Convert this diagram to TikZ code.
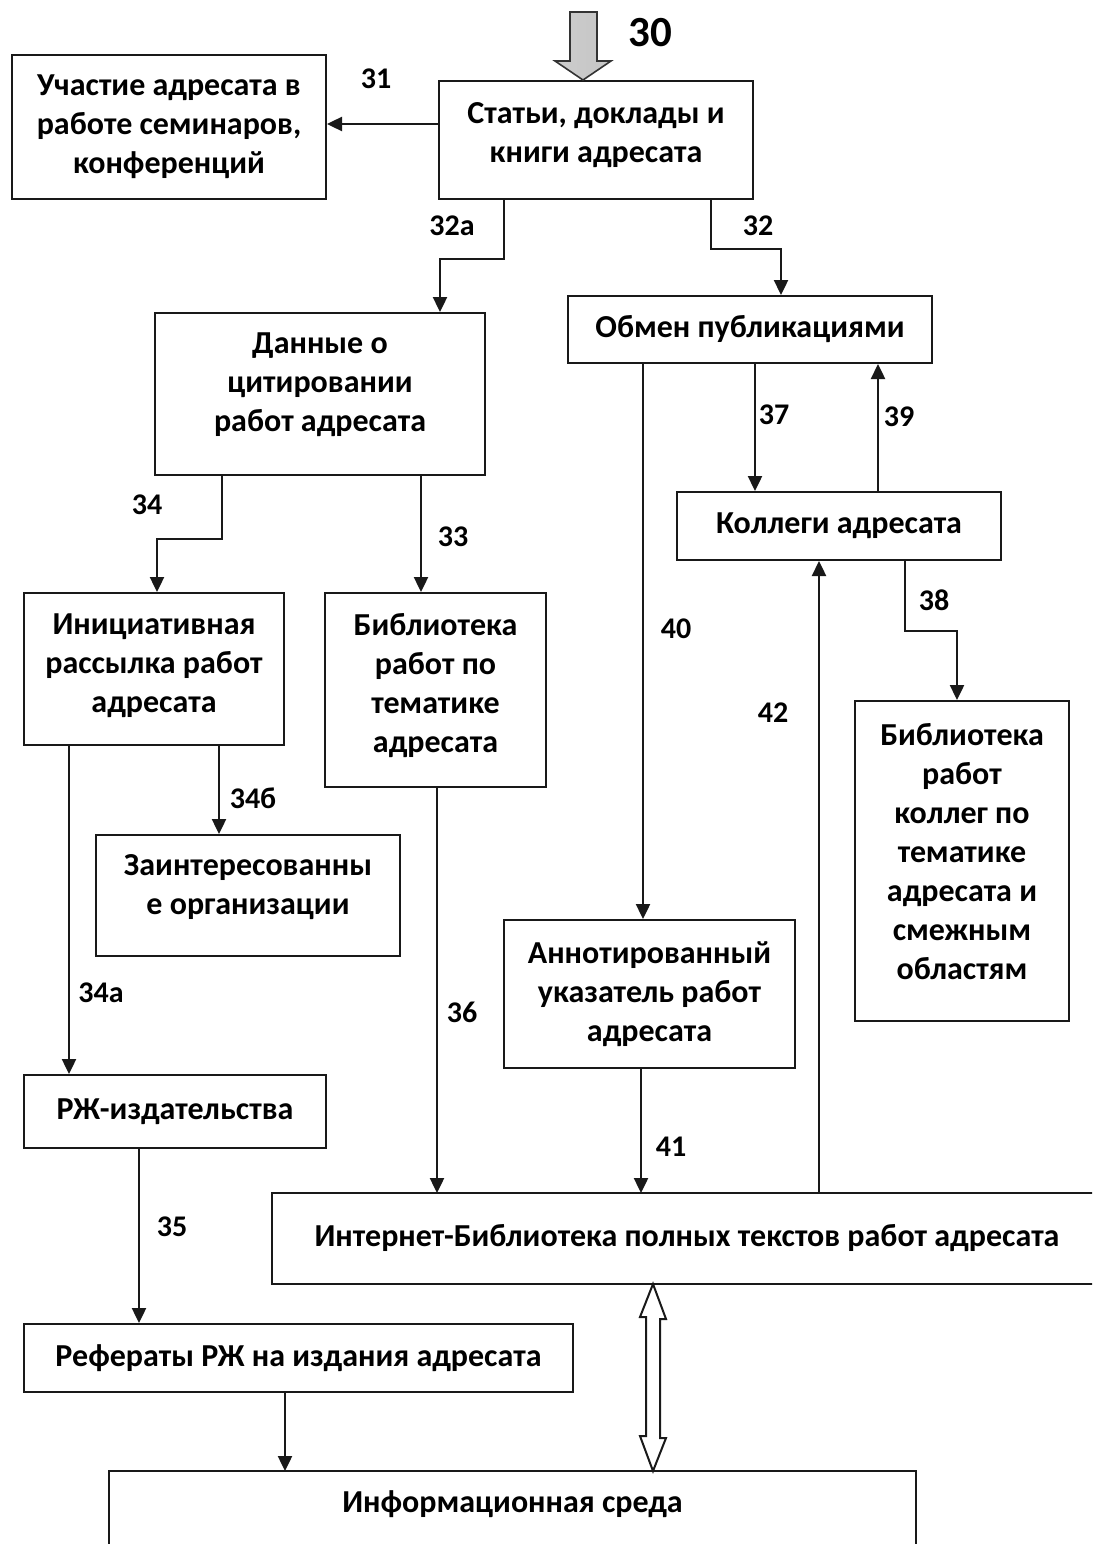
\documentclass[tikz,border=0pt]{standalone}
\usepackage{fontspec}
\setmainfont{Carlito}
\usetikzlibrary{arrows.meta,calc}

\begin{document}
\begin{tikzpicture}[x=1pt,y=-1pt,
  box/.style={draw=black!90, line width=2pt, align=center, inner sep=0pt,
    font=\bfseries\fontsize{32pt}{39pt}\selectfont},
  openbox/.style={box, draw=none},
  edge/.style={draw=black!90, line width=2.4pt},
  arr/.style={edge, -{Triangle[length=15pt,width=14pt]}},
  num/.style={font=\bfseries\fontsize{30pt}{32pt}\selectfont, inner sep=0pt},
]
\useasboundingbox (0,0) rectangle (1092,1544);
\clip (0,0) rectangle (1092,1544);

% ---- blocks ----
\node[box, minimum width=314pt, minimum height=144pt] (part) at (169,127)
  {Участие адресата в\\работе семинаров,\\конференций};
\node[box, minimum width=314pt, minimum height=118pt, text depth=15pt] (stat) at (596,140)
  {Статьи, доклады и\\книги адресата};
\node[box, minimum width=330pt, minimum height=162pt, text depth=23pt] (cit) at (320,394)
  {Данные о\\цитировании\\работ адресата};
\node[box, minimum width=364pt, minimum height=67pt] (obmen) at (750,329.5)
  {Обмен публикациями};
\node[box, minimum width=324pt, minimum height=68pt] (koll) at (839,526)
  {Коллеги адресата};
\node[box, minimum width=260pt, minimum height=152pt, text depth=11pt] (init) at (154,669)
  {Инициативная\\рассылка работ\\адресата};
\node[box, minimum width=221pt, minimum height=194pt, text depth=15pt] (bib) at (435.5,690)
  {Библиотека\\работ по\\тематике\\адресата};
\node[box, minimum width=214pt, minimum height=320pt, text depth=20pt] (bibk) at (962,861)
  {Библиотека\\работ\\коллег по\\тематике\\адресата и\\смежным\\областям};
\node[box, minimum width=304pt, minimum height=121pt, text depth=21pt] (zaint) at (248,895.5)
  {Заинтересованны\\е организации};
\node[box, minimum width=291pt, minimum height=148pt] (annot) at (649.5,994)
  {Аннотированный\\указатель работ\\адресата};
\node[box, minimum width=302pt, minimum height=73pt] (rzh) at (175,1111.5)
  {РЖ-издательства};
\node[openbox, minimum width=828pt, minimum height=89pt] (inet) at (687,1238.5)
  {Интернет-Библиотека полных текстов работ адресата};
\node[box, minimum width=549pt, minimum height=68pt] (ref) at (298.5,1358)
  {Рефераты РЖ на издания адресата};
\node[openbox, minimum width=805pt, minimum height=64pt] (inf) at (512.5,1504)
  {Информационная среда};

% outlines of the two blocks that run past the page edge
\draw[line width=2pt, draw=black!90] (inet.north east) -- (inet.north west)
  -- (inet.south west) -- (inet.south east);
\draw[line width=2pt, draw=black!90] ([yshift=-60pt]inf.south west)
  -- (inf.north west) -- (inf.north east) -- ([yshift=-60pt]inf.south east);

% ---- incoming flow 30 ----
\coordinate (in30) at ([xshift=-13pt]stat.north);
\path[draw=black!80, line width=1.6pt, left color=gray!40, middle color=gray!6,
  right color=gray!45]
  (in30) -- ++(-28,-19) -- ++(15,0) -- ++(0,-49) -- ++(27,0) -- ++(0,49)
  -- ++(14,0) -- cycle;
\node[num, font=\bfseries\fontsize{43pt}{44pt}\selectfont] (n30) at (650,33) {30};

% ---- connectors ----
\draw[arr] ([yshift=16pt]stat.west) -- ([yshift=3pt]part.east);
\draw[arr] ([xshift=-92pt]stat.south) -- ++(0,59) -| ([xshift=120pt]cit.north);
\draw[arr] ([xshift=115pt]stat.south) -- ++(0,49) -| ([xshift=31pt]obmen.north);
\draw[arr] ([xshift=101pt]cit.south) -- ([xshift=-14.5pt]bib.north);
\draw[arr] ([xshift=-98pt]cit.south) -- ++(0,63) -| ([xshift=3pt]init.north);
\draw[arr] ([xshift=65pt]init.south) -- ([xshift=-29pt]zaint.north);
\draw[arr] ([xshift=-85pt]init.south) -- ([xshift=-106pt]rzh.north);
\draw[arr] ([xshift=-36pt]rzh.south) -- ([xshift=-159.5pt]ref.north);
\draw[arr] ([xshift=1.5pt]bib.south) -- ([xshift=-250pt]inet.north);
\draw[arr] ([xshift=5pt]obmen.south) -- ([xshift=-84pt]koll.north);
\draw[arr] ([xshift=39pt]koll.north) -- ([xshift=128pt]obmen.south);
\draw[arr] ([xshift=66pt]koll.south) -- ++(0,70) -| ([xshift=-5pt]bibk.north);
\draw[arr] ([xshift=-107pt]obmen.south) -- ([xshift=-6.5pt]annot.north);
\draw[arr] ([xshift=-8.5pt]annot.south) -- ([xshift=-46pt]inet.north);
\draw[arr] ([xshift=132pt]inet.north) -- ([xshift=-20pt]koll.south);
\draw[arr] ([xshift=-13.5pt]ref.south) -- ([xshift=-227.5pt]inf.north);

% hollow two-way arrow between the Internet library and the environment
\coordinate (dt) at ([xshift=-34pt]inet.south);
\coordinate (db) at ([xshift=140.5pt]inf.north);
\draw[line width=2pt, draw=black!90, fill=white, line join=miter]
  (dt) -- ++(13,35) -- ++(-6,0) -- ++(0,119) -- ++(6,0) -- (db)
  -- ++(-13,-35) -- ++(6,0) -- ++(0,-119) -- ++(-6,0) -- cycle;

% ---- flow numbers ----
\node[num] (n31) at (376,79) {31};
\node[num] (n32a) at (452,226) {32а};
\node[num] (n32) at (758,226) {32};
\node[num] (n33) at (453,537) {33};
\node[num] (n34) at (147,505) {34};
\node[num] (n34b) at (253,798) {34б};
\node[num] (n34a) at (101,993) {34а};
\node[num] (n35) at (172,1227) {35};
\node[num] (n36) at (462,1012) {36};
\node[num] (n37) at (774,415) {37};
\node[num] (n39) at (899,417) {39};
\node[num] (n38) at (934,600) {38};
\node[num] (n40) at (676,629) {40};
\node[num] (n41) at (671,1147) {41};
\node[num] (n42) at (773,713) {42};
\end{tikzpicture}
\end{document}
